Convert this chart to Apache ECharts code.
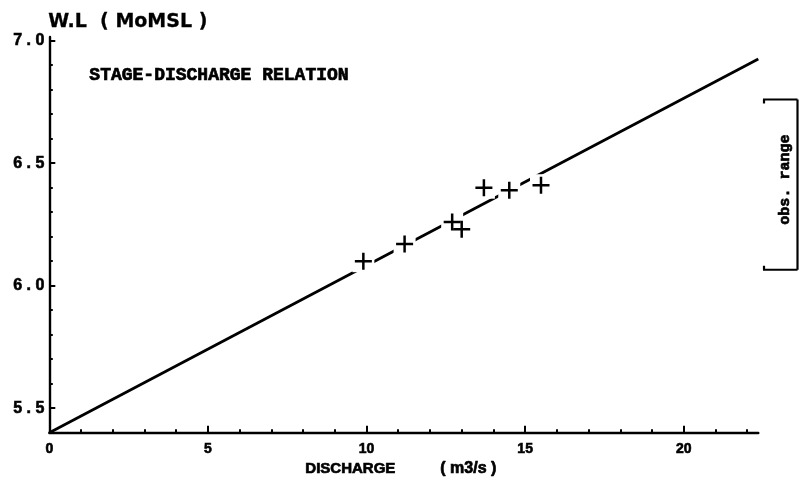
<!DOCTYPE html>
<html><head><meta charset="utf-8">
<script src="https://cdn.jsdelivr.net/npm/echarts@6/dist/echarts.min.js"></script>
<style>html,body{margin:0;padding:0;background:#fff}#c{width:799px;height:485px}</style>
</head><body><div id="c"></div>
<script>
// observed gaugings
const obsQ  = [9.9, 11.2, 12.7, 13.0, 13.7, 14.5, 15.5];
const obsWL = [6.10, 6.17, 6.26, 6.23, 6.40, 6.39, 6.41];
// stage-discharge relation line
const curveQ  = [0, 22.35];
const curveWL = [5.40, 6.925];
// ticks
const xMajorTicks = [0, 5, 10, 15, 20];
const xMinorTicks = [1, 2, 3, 4, 6, 7, 8, 9, 11, 12, 13, 14, 16, 17, 18, 19, 21, 22];
const yMajorTicks = [5.5, 6.0, 6.5, 7.0];
const yMinorTicks = [5.6, 5.7, 5.8, 5.9, 6.1, 6.2, 6.3, 6.4, 6.6, 6.7, 6.8, 6.9];
const xRange = [0, 22.35];
const yRange = [5.4, 7.015];
const obsRange = [6.065, 6.76];

const chart = echarts.init(document.getElementById('c'), null, {renderer: 'canvas'});
const crossPath = 'path://M-1.25,-8.5H1.25V-1.25H8.5V1.25H1.25V8.5H-1.25V1.25H-8.5V-1.25H-1.25Z';
const pts = obsQ.map((q, i) => [q, obsWL[i]]);

const baseX = {type: 'value', min: xRange[0], max: xRange[1], position: 'bottom', offset: 0, splitLine: {show: false}};
const baseY = {type: 'value', min: yRange[0], max: yRange[1], position: 'left', offset: 0, splitLine: {show: false}};

chart.setOption({
  animation: false,
  backgroundColor: '#fff',
  grid: {left: 49.3, right: 40.7, top: 37, bottom: 52.3, containLabel: false, outerBoundsMode: 'none'},
  xAxis: [
    Object.assign({}, baseX, {
      axisLine: {show: true, onZero: false, lineStyle: {color: '#000', width: 2.4}},
      axisTick: {show: true, inside: true, length: 7, customValues: xMajorTicks, lineStyle: {color: '#000', width: 2}},
      axisLabel: {show: true, margin: 9, customValues: xMajorTicks, color: '#000',
        fontFamily: 'Liberation Sans', fontWeight: 'bold', fontSize: 14,
        textBorderColor: '#000', textBorderWidth: 0.6}
    }),
    Object.assign({}, baseX, {
      axisLine: {show: false, onZero: false},
      axisTick: {show: true, inside: true, length: 3.5, customValues: xMinorTicks, lineStyle: {color: '#000', width: 2}},
      axisLabel: {show: false}
    })
  ],
  yAxis: [
    Object.assign({}, baseY, {
      axisLine: {show: true, onZero: false, lineStyle: {color: '#000', width: 2.4}},
      axisTick: {show: true, inside: true, length: 6, customValues: yMajorTicks, lineStyle: {color: '#000', width: 2}},
      axisLabel: {show: true, margin: 5, customValues: yMajorTicks, color: '#000',
        fontFamily: 'Liberation Sans', fontWeight: 'bold', fontSize: 16,
        textBorderColor: '#000', textBorderWidth: 0.6,
        formatter: v => v.toFixed(1).split('').join(' ')}
    }),
    Object.assign({}, baseY, {
      axisLine: {show: false, onZero: false},
      axisTick: {show: true, inside: true, length: 3.5, customValues: yMinorTicks, lineStyle: {color: '#000', width: 2}},
      axisLabel: {show: false}
    })
  ],
  series: [
    {type: 'line', xAxisIndex: 0, yAxisIndex: 0, data: curveQ.map((q, i) => [q, curveWL[i]]),
      showSymbol: false, symbol: 'none', silent: true, z: 2,
      lineStyle: {color: '#000', width: 2.8}},
    {type: 'scatter', xAxisIndex: 0, yAxisIndex: 0, data: pts, symbol: 'rect', symbolSize: 22,
      silent: true, z: 3, itemStyle: {color: '#fff', opacity: 1}},
    {type: 'scatter', xAxisIndex: 0, yAxisIndex: 0, data: pts, symbol: crossPath, symbolSize: 17,
      silent: true, z: 4, itemStyle: {color: '#000', opacity: 1}}
  ]
});

const yTop = chart.convertToPixel({yAxisIndex: 0}, obsRange[1]);
const yBot = chart.convertToPixel({yAxisIndex: 0}, obsRange[0]);
const bx0 = 763, bx1 = 797.5;
const ls = {stroke: '#000', lineWidth: 2.2};
const heavy = {stroke: '#000', lineWidth: 0.7};
chart.setOption({
  graphic: [
    {type: 'text', left: 48, top: 12, style: Object.assign({text: 'W.L  ( MoMSL )', fill: '#000',
      font: 'bold 19px "DejaVu Sans"'}, {stroke: '#000', lineWidth: 0.3})},
    {type: 'text', left: 89, top: 66, style: Object.assign({text: 'STAGE-DISCHARGE RELATION', fill: '#000',
      font: 'bold 18px "Liberation Mono"'}, heavy)},
    {type: 'text', left: 305, top: 461, style: Object.assign({text: 'DISCHARGE', fill: '#000',
      font: 'bold 15px "Liberation Sans"'}, heavy)},
    {type: 'text', left: 440, top: 460, style: Object.assign({text: '( m3/s )', fill: '#000',
      font: 'bold 16px "Liberation Sans"'}, heavy)},
    {type: 'line', shape: {x1: bx0, y1: yTop, x2: bx1, y2: yTop}, style: ls},
    {type: 'line', shape: {x1: bx1, y1: yTop, x2: bx1, y2: yBot}, style: ls},
    {type: 'line', shape: {x1: bx0, y1: yBot, x2: bx1, y2: yBot}, style: ls},
    {type: 'line', shape: {x1: bx0 + 1, y1: yTop, x2: bx0 + 1, y2: yTop + 4}, style: ls},
    {type: 'line', shape: {x1: bx0 + 1, y1: yBot, x2: bx0 + 1, y2: yBot - 4}, style: ls},
    {type: 'text', x: 785, y: (yTop + yBot) / 2 - 5, rotation: Math.PI / 2,
      style: Object.assign({text: 'obs. range', fill: '#000', font: 'bold 15px "Liberation Mono"',
        align: 'center', verticalAlign: 'middle'}, heavy)}
  ]
});
</script>
</body></html>
